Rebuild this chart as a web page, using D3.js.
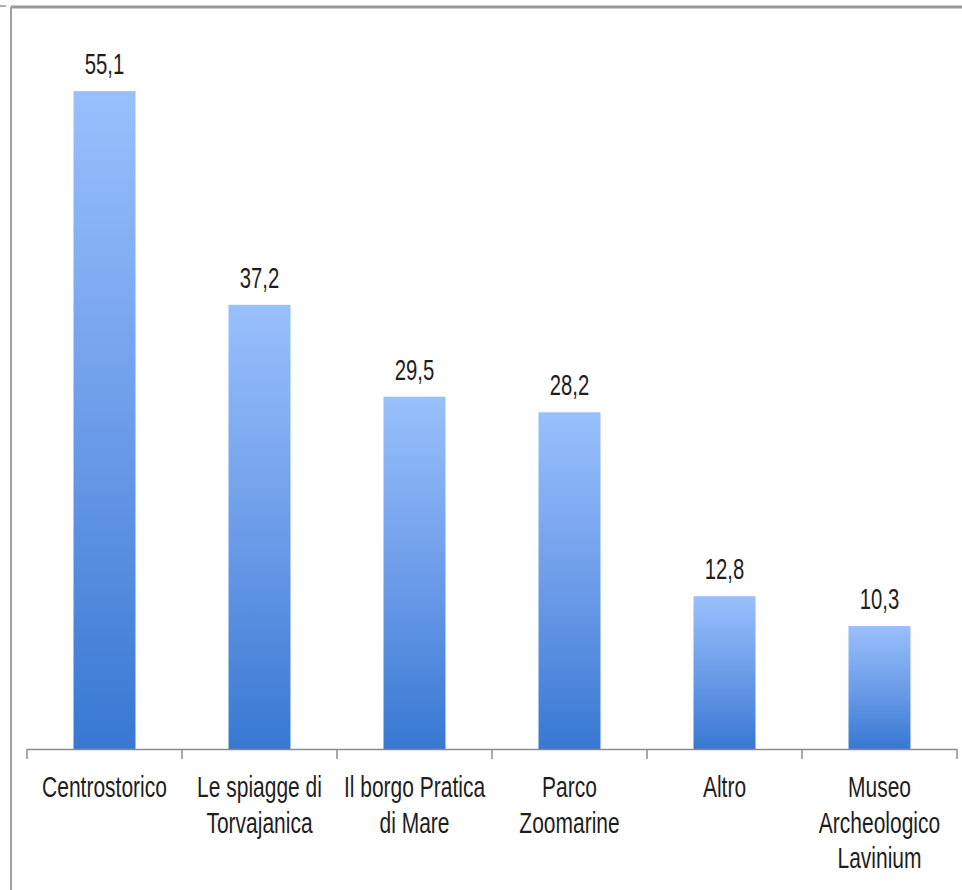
<!DOCTYPE html>
<html><head><meta charset="utf-8">
<script src="https://cdn.jsdelivr.net/npm/d3@7"></script>
<style>
html,body{margin:0;padding:0;background:#fff;}
svg{display:block;}
text{font-family:"Liberation Sans",Arial,sans-serif;fill:#1e1e1e;}
</style></head>
<body>
<svg id="chart" width="962" height="890"></svg>
<script>
const categories = [
  ["Centrostorico"],
  ["Le spiagge di", "Torvajanica"],
  ["Il borgo Pratica", "di Mare"],
  ["Parco", "Zoomarine"],
  ["Altro"],
  ["Museo", "Archeologico", "Lavinium"]
];
const values = [55.1, 37.2, 29.5, 28.2, 12.8, 10.3];
const valueLabels = ["55,1", "37,2", "29,5", "28,2", "12,8", "10,3"];

const svg = d3.select("#chart");
const W = 962, H = 890;
const baseY = 749, left = 27, right = 957;

// frame
svg.append("line").attr("x1", 11).attr("x2", W).attr("y1", 7).attr("y2", 7)
  .attr("stroke", "#9a9a9a").attr("stroke-width", 3);
svg.append("line").attr("x1", 11).attr("x2", 11).attr("y1", 7).attr("y2", H)
  .attr("stroke", "#a0a0a0").attr("stroke-width", 2);
svg.append("line").attr("x1", 0).attr("x2", 6).attr("y1", 6).attr("y2", 6)
  .attr("stroke", "#b0b0b0").attr("stroke-width", 2);

const x = d3.scaleBand().domain(d3.range(categories.length)).range([left, right]).paddingInner(0.6).paddingOuter(0.3);
const y = d3.scaleLinear().domain([0, 60]).range([baseY, baseY - 60 * 11.94]);

const defs = svg.append("defs");
const grad = defs.append("linearGradient").attr("id", "barGrad")
  .attr("x1", 0).attr("y1", 0).attr("x2", 0).attr("y2", 1);
grad.append("stop").attr("offset", "0%").attr("stop-color", "#98c0fc");
grad.append("stop").attr("offset", "50%").attr("stop-color", "#6d9de9");
grad.append("stop").attr("offset", "100%").attr("stop-color", "#3878d2");

svg.append("g").selectAll("rect").data(values).join("rect")
  .attr("x", (d, i) => x(i))
  .attr("width", x.bandwidth())
  .attr("y", d => y(d))
  .attr("height", d => baseY - y(d))
  .attr("fill", "url(#barGrad)");

// axis
const step = (right - left) / categories.length;
svg.append("line").attr("x1", left).attr("x2", right).attr("y1", baseY + 0.5).attr("y2", baseY + 0.5)
  .attr("stroke", "#8c8c8c").attr("stroke-width", 1.5);
svg.append("g").selectAll("line").data(d3.range(categories.length + 1)).join("line")
  .attr("x1", i => left + i * step).attr("x2", i => left + i * step)
  .attr("y1", baseY).attr("y2", baseY + 10)
  .attr("stroke", "#8c8c8c").attr("stroke-width", 1.5);

const sx = 0.7;
// value labels
svg.append("g").selectAll("text").data(values).join("text")
  .attr("transform", (d, i) => `translate(${x(i) + x.bandwidth() / 2},${y(d) - 17}) scale(${sx},1)`)
  .attr("text-anchor", "middle")
  .attr("font-size", 29)
  .text((d, i) => valueLabels[i]);

// category labels
const cg = svg.append("g").selectAll("g").data(categories).join("g")
  .attr("transform", (d, i) => `translate(${x(i) + x.bandwidth() / 2},0)`);
cg.selectAll("text").data(d => d).join("text")
  .attr("transform", (d, j) => `translate(0,${797 + j * 35.5}) scale(${sx},1)`)
  .attr("text-anchor", "middle")
  .attr("font-size", 30)
  .text(d => d);
</script>
</body></html>
